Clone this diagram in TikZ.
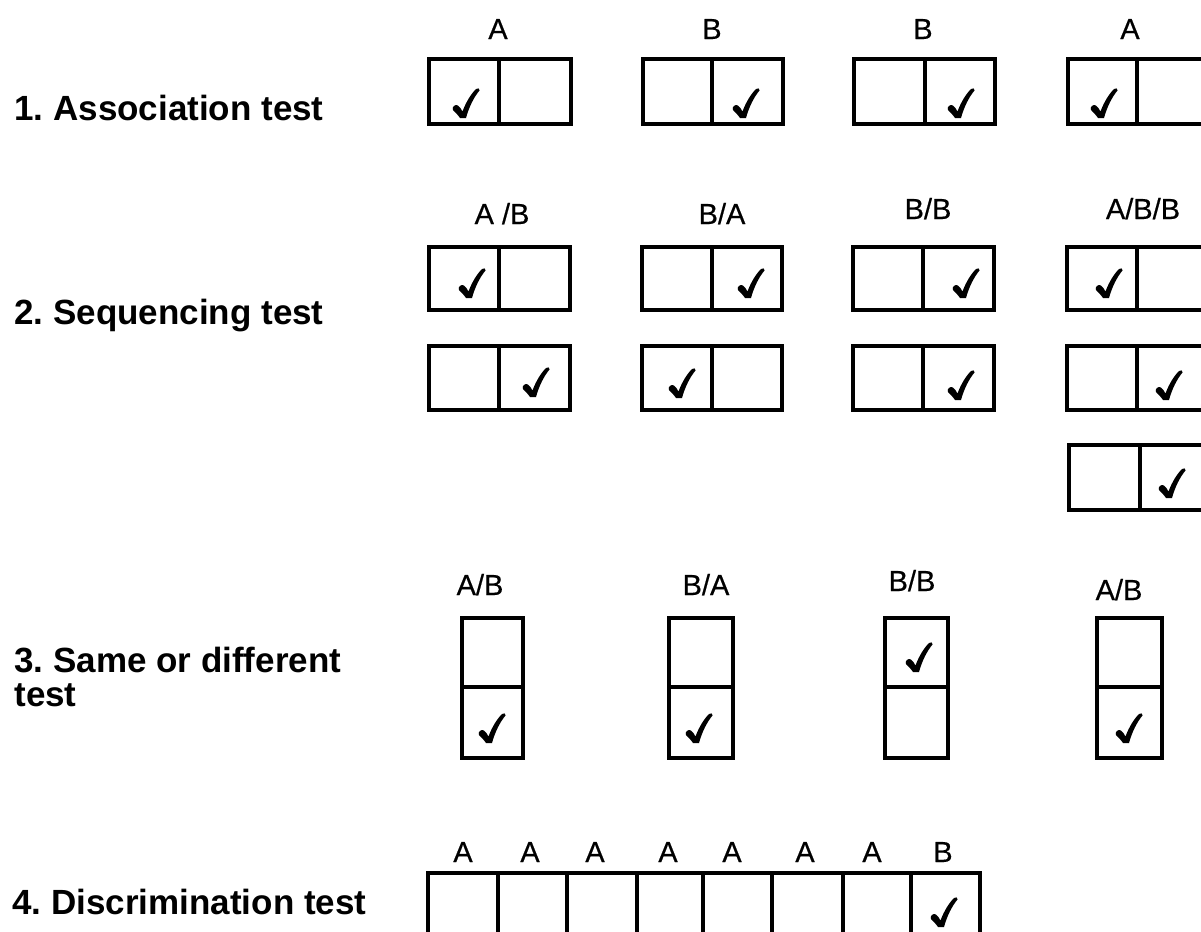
\documentclass[tikz,border=0pt]{standalone}
\usepackage{fontspec}
\setmainfont{Liberation Sans}
\newfontfamily\lblfont[FakeBold=0.5]{Liberation Sans}
\frenchspacing
\begin{document}
\begin{tikzpicture}[x=0.5pt,y=-0.5pt,
  frame/.style={line width=2pt, line join=miter, line cap=rect},
  letter/.style={font=\lblfont\fontsize{14.5}{16}\selectfont, anchor=base, inner sep=0pt},
  title/.style={font=\bfseries\fontsize{17.5}{20}\selectfont, anchor=base west, inner sep=0pt},
  pics/checkmark/.style={code={
    \fill[black] (8,30) .. controls (6,27) and (3,24) .. (1,22)
      .. controls (-0.5,19.5) and (3,15.5) .. (6,17.5)
      .. controls (8,19) and (9,21) .. (10.5,23.5)
      .. controls (14,14) and (19,6) .. (24,1)
      .. controls (25.5,-0.5) and (28.5,0.5) .. (27.5,2.5)
      .. controls (22,9) and (17,19) .. (14,30) -- cycle;
  }}]
\clip (0,0) rectangle (1201,932);
\fill[white] (0,0) rectangle (1201,932);

% ---------- row titles ----------
\node[title] (t1) at (14,120) {1. Association test};
\node[title] (t2) at (14,324) {2. Sequencing test};
\node[title] (t3) at (14,672) {3. Same or different};
\node[title] (t3b) at (14,706) {test};
\node[title] (t4) at (12,914) {4. Discrimination test};

% ---------- 1. association test ----------
\node[letter] (l1a) at (498,39) {A};
\node[letter] (l1b) at (712,39) {B};
\node[letter] (l1c) at (923,39) {B};
\node[letter] (l1d) at (1130,39) {A};
\draw[frame] (429,59) rectangle (571,124) (499,59) -- (499,124);
\draw[frame] (643,59) rectangle (783,124) (712,59) -- (712,124);
\draw[frame] (854,59) rectangle (995,124) (925,59) -- (925,124);
\draw[frame] (1068,59) rectangle (1208,124) (1137,59) -- (1137,124);
\pic (c1a) at (452,88) {checkmark};
\pic (c1b) at (732,88) {checkmark};
\pic (c1c) at (947,88) {checkmark};
\pic (c1d) at (1090,88) {checkmark};

% ---------- 2. sequencing test ----------
\node[letter] (l2a) at (502,224) {A /B};
\node[letter] (l2b) at (722,224) {B/A};
\node[letter] (l2c) at (928,219) {B/B};
\node[letter] (l2d) at (1143,219) {A/B/B};
\foreach \y/\h in {247/310,346/410} {
  \draw[frame] (429,\y) rectangle (570,\h) (499,\y) -- (499,\h);
  \draw[frame] (642,\y) rectangle (782,\h) (712,\y) -- (712,\h);
  \draw[frame] (853,\y) rectangle (994,\h) (923,\y) -- (923,\h);
  \draw[frame] (1067,\y) rectangle (1207,\h) (1137,\y) -- (1137,\h);
}
\draw[frame] (1069,445) rectangle (1210,510) (1140,445) -- (1140,510);
\pic (c2a) at (458,268) {checkmark};
\pic (c2b) at (737,268) {checkmark};
\pic (c2c) at (952,268) {checkmark};
\pic (c2d) at (1095,268) {checkmark};
\pic (c2e) at (522,367) {checkmark};
\pic (c2f) at (668,368) {checkmark};
\pic (c2g) at (947,370) {checkmark};
\pic (c2h) at (1155,370) {checkmark};
\pic (c2i) at (1158,468) {checkmark};

% ---------- 3. same or different test ----------
\node[letter] (l3a) at (480,595) {A/B};
\node[letter] (l3b) at (706,595) {B/A};
\node[letter] (l3c) at (912,591) {B/B};
\node[letter] (l3d) at (1119,600) {A/B};
\foreach \xa/\xb in {462/523,669/733,885/948,1097/1162} {
  \draw[frame] (\xa,618) rectangle (\xb,758) (\xa,687) -- (\xb,687);
}
\pic (c3a) at (478,713) {checkmark};
\pic (c3b) at (685,713) {checkmark};
\pic (c3c) at (905,642) {checkmark};
\pic (c3d) at (1115,713) {checkmark};

% ---------- 4. discrimination test ----------
\foreach \x/\t [count=\i] in {463/A,530/A,595/A,668/A,732/A,805/A,872/A,943/B}
  \node[letter] (l4\i) at (\x,862) {\t};
\draw[frame] (428,873) rectangle (980,945);
\foreach \x in {498,567,637,703,772,843,911}
  \draw[frame] (\x,873) -- (\x,945);
\pic (c4) at (930,897) {checkmark};
\end{tikzpicture}
\end{document}
